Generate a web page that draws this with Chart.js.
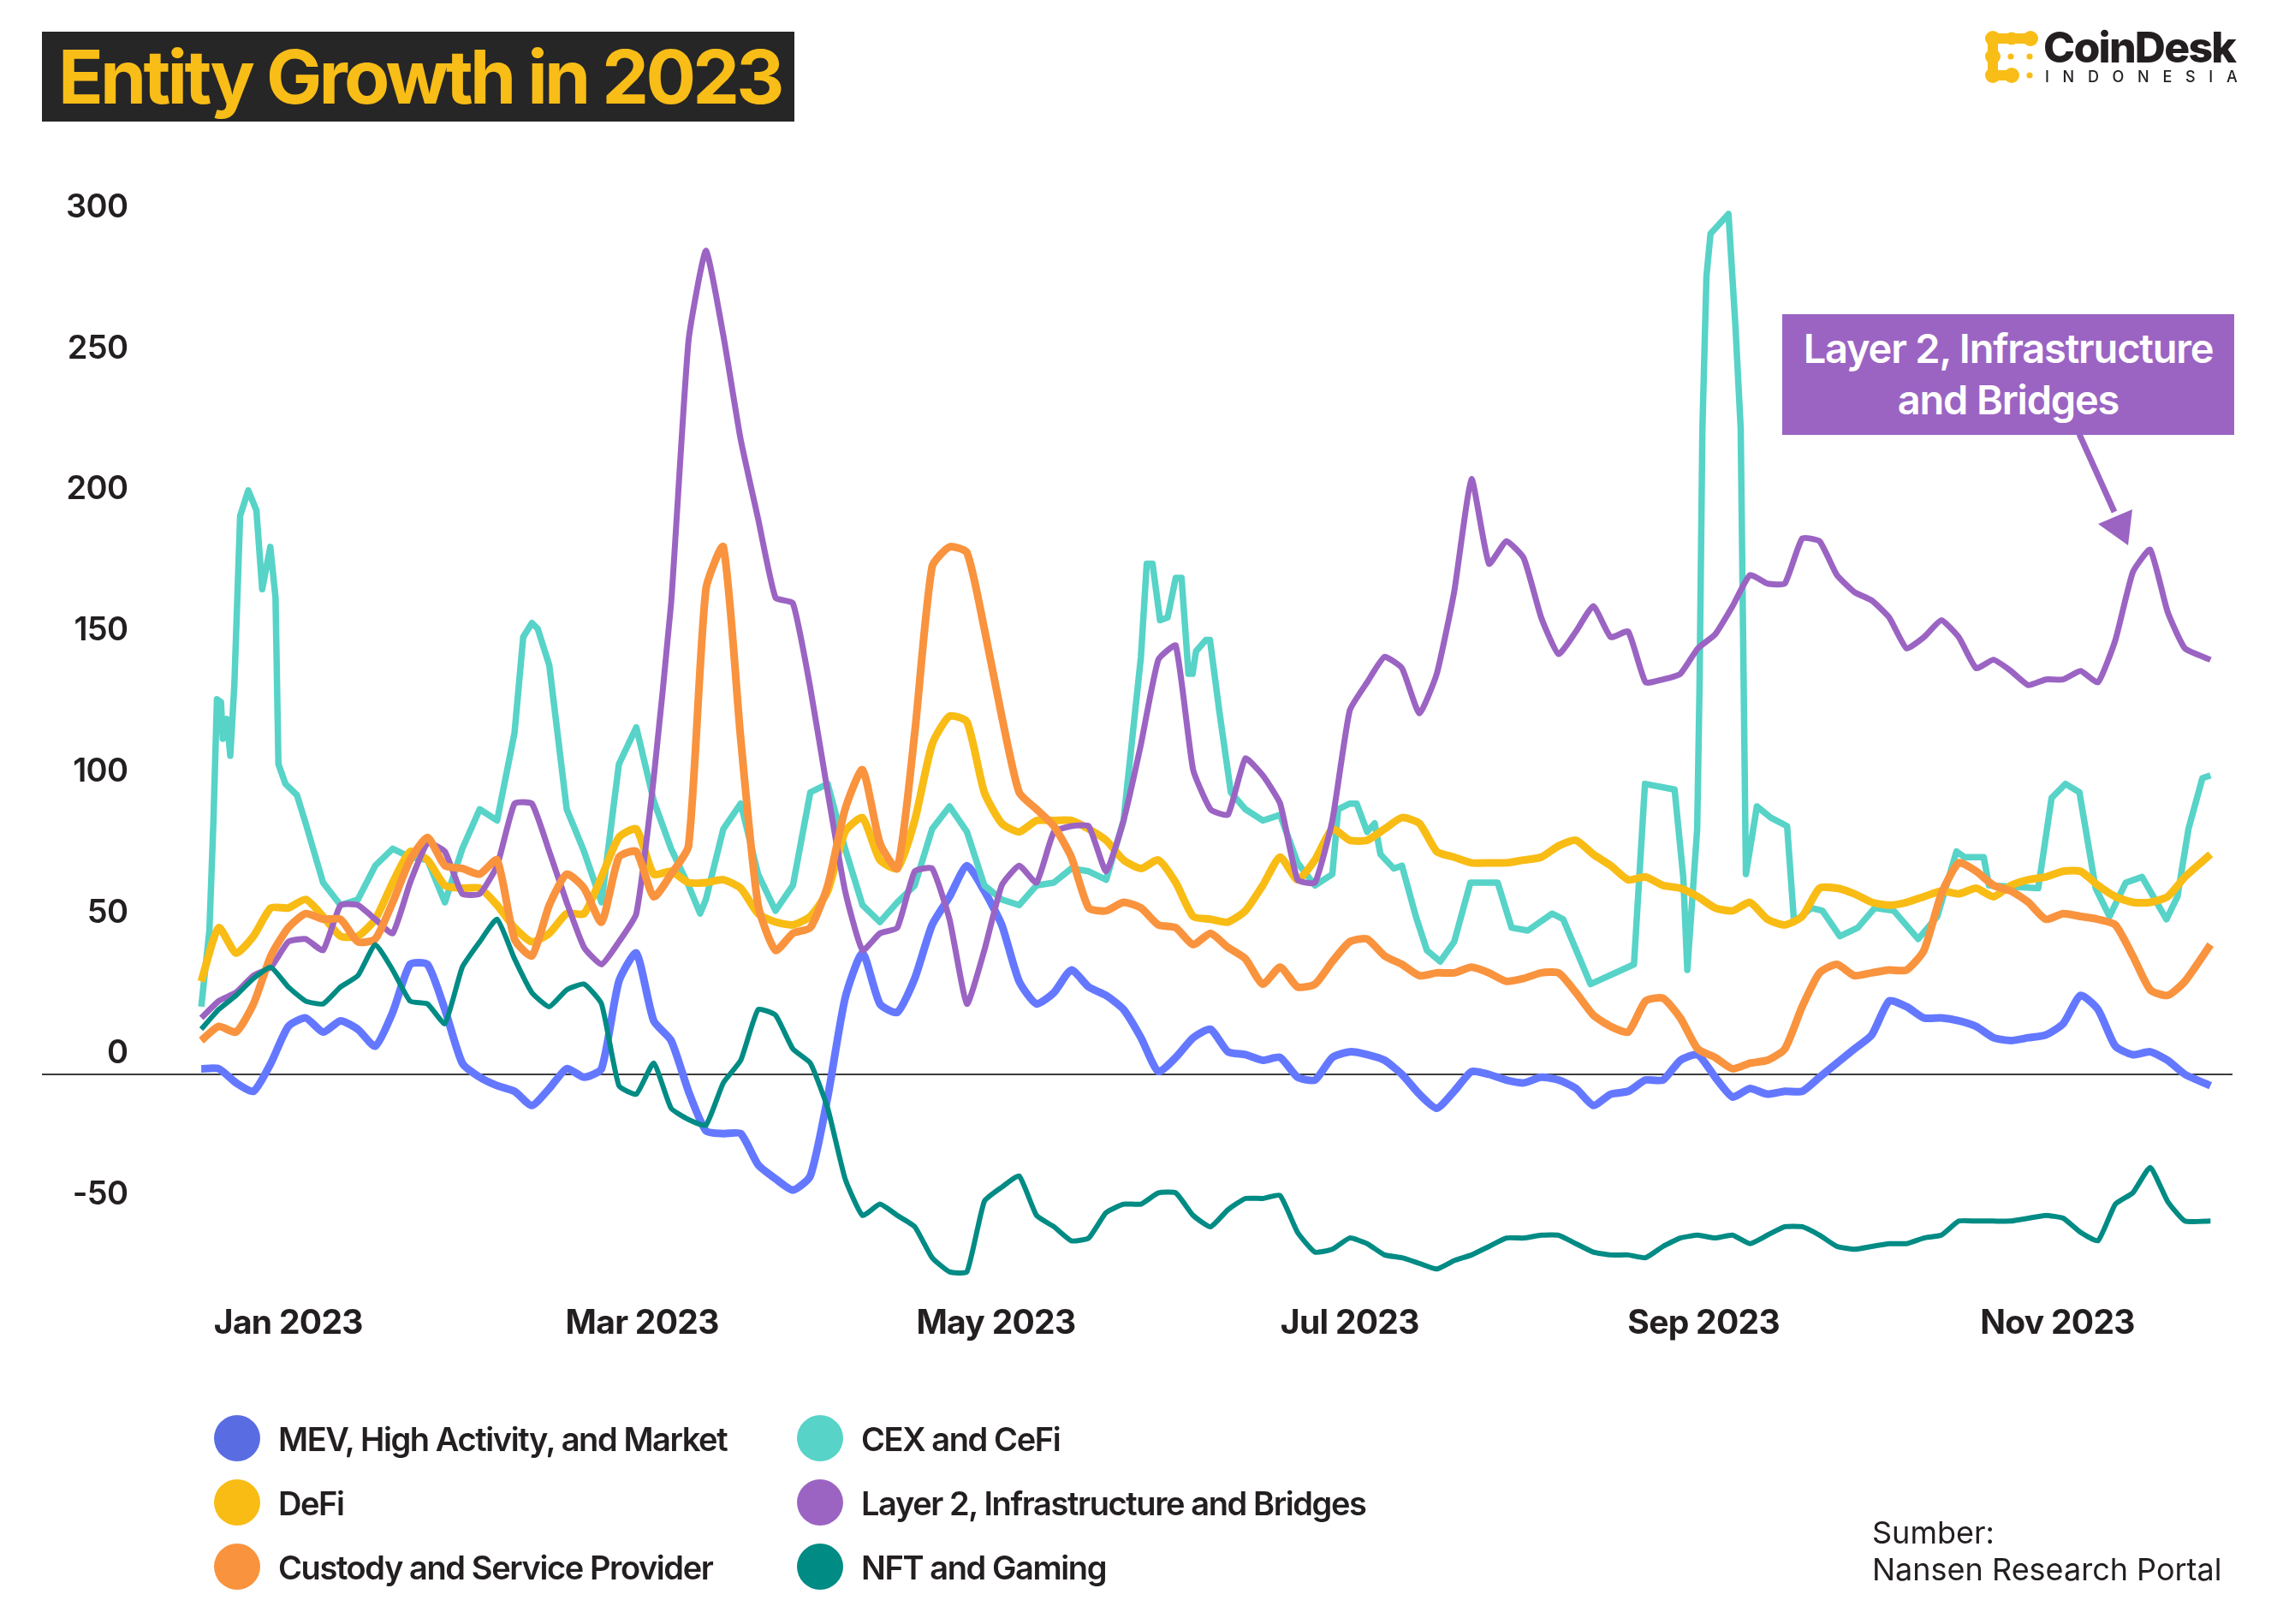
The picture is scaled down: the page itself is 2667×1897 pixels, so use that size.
<!DOCTYPE html>
<html>
<head>
<meta charset="utf-8">
<title>Entity Growth in 2023</title>
<script src="https://cdn.jsdelivr.net/npm/chart.js@4.4.1/dist/chart.umd.js"></script>
<style>
  html, body { margin: 0; padding: 0; background: #fff; }
  body { width: 2667px; height: 1897px; position: relative; overflow: hidden; font-family: Inter, sans-serif; color: #231f20; }
  canvas { position: absolute; left: 0; top: 0; }
  .abs { position: absolute; white-space: nowrap; }
  #title { left: 49px; top: 37px; width: 879px; height: 105px; background: #262626; color: #f9bd17; font-size: 87px; font-weight: 700; line-height: 105px; letter-spacing: -3.75px; text-indent: 19px; }
  #callout { left: 2082px; top: 367px; width: 528px; height: 141px; background: #9b64c3; color: #fff; font-size: 47px; font-weight: 600; line-height: 60px; letter-spacing: -1.2px; text-align: center; padding-top: 10px; box-sizing: border-box; }
  #logoName { left: 2387px; top: 26px; font-size: 50px; font-weight: 800; letter-spacing: -1.8px; line-height: 58px; }
  #logoSub { left: 2389px; top: 79px; font-size: 18px; font-weight: 500; letter-spacing: 15.7px; line-height: 22px; }
  .legendDot { position: absolute; width: 54px; height: 54px; border-radius: 50%; }
  .legendText { font-size: 38px; font-weight: 600; letter-spacing: -1.4px; line-height: 50px; }
  #source { left: 2187px; top: 1769px; font-size: 36px; font-weight: 400; line-height: 43px; letter-spacing: 0; }
  svg { position: absolute; left: 0; top: 0; }
</style>
</head>
<body>
<canvas id="chart" width="2667" height="1897"></canvas>
<div class="abs" id="title">Entity Growth in 2023</div>
<svg width="2667" height="1897">
  <g fill="#f9bd17">
    <path d="M2328 45H2372M2328 45V88M2328 88H2350" fill="none" stroke="#f9bd17" stroke-width="12"/>
    <circle cx="2328" cy="45" r="9"/><circle cx="2350" cy="45" r="7.5"/><circle cx="2372" cy="45" r="9"/>
    <circle cx="2328" cy="66" r="9"/><circle cx="2328" cy="88" r="9"/><circle cx="2350" cy="88" r="9"/>
    <circle cx="2349" cy="66" r="3.6"/><circle cx="2371" cy="66" r="3.6"/><circle cx="2371" cy="88" r="3.6"/>
  </g>
  <path d="M2429 507L2470 598" stroke="#9b64c3" stroke-width="7"/>
  <path d="M2491 595L2451 612L2486 637Z" fill="#9b64c3"/>
</svg>
<div class="abs" id="logoName">CoinDesk</div>
<div class="abs" id="logoSub">INDONESIA</div>
<div class="abs" id="callout">Layer 2, Infrastructure<br>and Bridges</div>
<div class="abs" id="source">Sumber:<br>Nansen Research Portal</div>
<div id="legend"></div>
<script>
// days since 17 Dec 2022, read every third day off the picture
const days = [
  0, 3, 6, 9, 12, 15, 18, 21, 24, 27, 30, 33, 36, 39, 42, 45, 48, 51, 54, 57, 60, 63, 66, 69, 72, 75, 78, 81, 84, 87, 90, 93, 96,
  99, 102, 105, 108, 111, 114, 117, 120, 123, 126, 129, 132, 135, 138, 141, 144, 147, 150, 153, 156, 159, 162, 165, 168, 171, 174, 177, 180, 183, 186, 189, 192, 195, 198, 201,
  204, 207, 210, 213, 216, 219, 222, 225, 228, 231, 234, 237, 240, 243, 246, 249, 252, 255, 258, 261, 264, 267, 270, 273, 276, 279, 282, 285, 288, 291, 294, 297, 300, 303, 306, 309, 312, 315, 318, 321, 324, 327, 330, 333, 336, 339, 342, 346.4
];
const mevValues = [
  2, 2, -3, -6, 4, 17, 20, 15, 19, 16, 10, 22, 39, 39, 23, 4, -1, -4, -6, -11, -5, 2, -1, 2, 33, 43, 19, 12, -6, -20, -21, -21, -32,
  -37, -41, -36, -8, 27, 43, 25, 22, 34, 53, 63, 74, 65, 53, 33, 25, 29, 37, 31, 28, 23, 13, 1, 6, 13, 16, 8, 7, 5, 6, -1, -2, 6, 8, 7,
  5, 0, -7, -12, -6, 1, 0, -2, -3, -1, -2, -5, -11, -7, -6, -2, -2, 5, 7, -1, -8, -5, -7, -6, -6, -1, 4, 9, 14, 26, 24, 20, 20, 19, 17, 13, 12, 13, 14, 18, 28, 23, 10, 7, 8, 5, 0, -4
];
const defiValues = [
  33, 52, 43, 49, 59, 59, 62, 56, 49, 49, 55, 68, 79, 76, 67, 66, 66, 60, 52, 47, 50, 57, 57, 70, 84, 87, 71, 72, 68, 68, 69, 66, 57,
  54, 53, 56, 65, 86, 91, 76, 73, 90, 117, 127, 125, 100, 89, 86, 90, 90, 90, 87, 83, 76, 73, 76, 68, 56, 55, 54, 58, 67, 77, 69, 76, 87, 83, 83,
  87, 91, 89, 79, 77, 75, 75, 75, 76, 77, 81, 83, 78, 74, 69, 70, 67, 66, 63, 59, 58, 61, 55, 53, 56, 66, 66, 64, 61, 60, 61, 63, 65, 64, 66, 63, 67, 69, 70, 72, 72, 67, 63, 61, 61, 63, 70, 78
];
const custodyValues = [
  12, 17, 15, 25, 42, 52, 57, 55, 55, 47, 48, 61, 76, 84, 74, 73, 71, 76, 48, 42, 60, 71, 66, 54, 77, 79, 63, 71, 81, 172, 187, 119, 60,
  44, 50, 52, 67, 94, 108, 82, 73, 121, 180, 187, 185, 158, 127, 100, 94, 88, 77, 59, 58, 61, 59, 53, 52, 46, 50, 45, 41, 32, 38, 31, 32, 40, 47, 48,
  42, 39, 35, 36, 36, 38, 36, 33, 34, 36, 36, 29, 21, 17, 15, 26, 27, 20, 9, 6, 2, 4, 5, 9, 24, 36, 39, 35, 36, 37, 37, 44, 64, 75, 72, 67, 65, 61, 55, 57, 56, 55, 53, 42, 30, 28, 33, 46
];
const layer2Values = [
  20, 26, 29, 35, 38, 47, 48, 44, 60, 60, 55, 50, 68, 82, 79, 64, 64, 74, 96, 96, 79, 61, 45, 39, 47, 57, 105, 167, 260, 292, 262, 225, 197,
  169, 167, 137, 100, 65, 44, 50, 52, 72, 73, 55, 25, 44, 67, 74, 68, 86, 88, 88, 72, 90, 117, 147, 152, 108, 94, 92, 112, 106, 96, 69, 68, 90, 129, 139,
  148, 144, 128, 142, 171, 211, 181, 189, 183, 162, 149, 157, 166, 155, 157, 139, 140, 142, 151, 156, 166, 177, 174, 174, 190, 189, 177, 171, 168, 162, 151, 155, 161, 155, 144, 147, 143, 138, 140, 140, 143, 139, 154, 178, 186, 164, 151, 147
];
const nftValues = [
  16, 23, 28, 34, 38, 31, 26, 25, 31, 35, 46, 37, 26, 25, 18, 38, 47, 55, 41, 29, 24, 30, 32, 25, -4, -7, 4, -12, -16, -18, -3, 5, 23,
  21, 9, 4, -12, -37, -50, -46, -50, -54, -65, -70, -70, -45, -40, -36, -50, -54, -59, -58, -49, -46, -46, -42, -42, -50, -54, -48, -44, -44, -43, -56, -63, -62, -58, -60,
  -64, -65, -67, -69, -66, -64, -61, -58, -58, -57, -57, -60, -63, -64, -64, -65, -61, -58, -57, -58, -57, -60, -57, -54, -54, -57, -61, -62, -61, -60, -60, -58, -57, -52, -52, -52, -52, -51, -50, -51, -56, -59, -46, -42, -33, -45, -52, -52
];
// CEX has very narrow spikes, so it gets its own denser day list
const cexDays = [
  0, 1.4, 2.1, 2.7, 3.4, 3.7, 4.4, 5, 5.7, 6.7,
  8.1, 9.5, 10.5, 11.9, 12.8, 13.3, 14.5, 16.5, 18, 21,
  24, 27, 30, 33, 36, 39, 42, 45, 48, 51,
  54, 55.5, 57, 58, 60, 63, 66, 69, 72, 75,
  78, 81, 84, 86, 87, 90, 93, 96, 99, 102,
  105, 108, 111, 114, 117, 120, 123, 126, 129, 132,
  135, 138, 141, 144, 147, 150, 153, 156, 159, 162,
  163, 164, 165.3, 166.6, 168, 169, 170.2, 170.9, 171.5, 173.2,
  173.9, 175.5, 177.5, 180, 183, 186, 189, 192, 195, 196,
  198, 199.2, 201, 202.3, 203.3, 205.6, 207, 209.4, 211.3, 213.6,
  216, 218.8, 223.5, 225.9, 228.7, 232.9, 234.8, 239.5, 247, 248.9,
  254, 255.5, 256.2, 257.9, 258.3, 258.8, 259.5, 260.2, 263.3, 264.5,
  265.4, 266.3, 268.2, 270.6, 273.4, 274.6, 277.6, 279.5, 282.5, 285.6,
  288.5, 291.8, 296, 299.3, 302.6, 304, 307.3, 308.2, 316.7, 319,
  321.4, 323.8, 326.6, 329, 331.8, 334.6, 338.8, 340.7, 342.6, 345,
  346.4
];
const cexValues = [
  24, 51, 90, 133, 132, 119, 126, 113, 138, 198,
  207, 200, 172, 187, 169, 110, 103, 99, 89, 68,
  60, 62, 74, 80, 77, 76, 61, 80, 94, 90,
  121, 155, 160, 158, 145, 94, 79, 61, 110, 123,
  97, 80, 67, 57, 62, 87, 96, 71, 58, 67,
  100, 103, 80, 60, 54, 61, 67, 87, 95, 86,
  67, 62, 60, 67, 68, 73, 72, 69, 90, 148,
  181, 181, 161, 162, 176, 176, 142, 142, 150, 154,
  154, 129, 100, 94, 90, 92, 75, 67, 71, 94,
  96, 96, 86, 89, 78, 73, 74, 56, 44, 40,
  47, 68, 68, 52, 51, 57, 55, 32, 39, 103,
  101, 70, 37, 87, 137, 229, 283, 298, 305, 265,
  229, 71, 95, 91, 88, 54, 59, 58, 49, 52,
  59, 58, 48, 56, 79, 77, 77, 67, 66, 98,
  103, 100, 66, 56, 68, 70, 55, 63, 87, 105,
  106
];

const seriesNames = ['MEV, High Activity, and Market', 'DeFi', 'Custody and Service Provider', 'CEX and CeFi', 'Layer 2, Infrastructure and Bridges', 'NFT and Gaming'];
const lineColors = ['#6478ff', '#f8bc15', '#f9933e', '#57d3c8', '#9b64c3', '#008b84'];
const legendColors = ['#5a6ce2', '#f8bc15', '#f9933e', '#57d3c8', '#9b64c3', '#008b84'];
const lineWidths = [9, 9, 9, 7.5, 7, 6];
const lineTensions = [0.2, 0.2, 0.2, 0, 0.15, 0.15];
const drawOrders = [5, 3, 1, 4, 2, 0];

const yTickValues = [-50, 0, 50, 100, 150, 200, 250, 300];
const xTickDays = [15, 76, 137, 198, 259, 320];
const xTickLabels = ['Jan 2023', 'Mar 2023', 'May 2023', 'Jul 2023', 'Sep 2023', 'Nov 2023'];

function toPoints(xs, ys) {
  return xs.map((x, i) => ({ x: x, y: ys[i] }));
}

const seriesPoints = [
  toPoints(days, mevValues),
  toPoints(days, defiValues),
  toPoints(days, custodyValues),
  toPoints(cexDays, cexValues),
  toPoints(days, layer2Values),
  toPoints(days, nftValues)
];

// the tick labels in the original are set tight
const tightText = {
  id: 'tightText',
  beforeDraw(chart) { chart.ctx.letterSpacing = '-0.7px'; }
};

new Chart(document.getElementById('chart'), {
  type: 'line',
  plugins: [tightText],
  data: {
    datasets: seriesNames.map((name, i) => ({
      label: name,
      data: seriesPoints[i],
      borderColor: lineColors[i],
      borderWidth: lineWidths[i],
      order: drawOrders[i],
      pointRadius: 0,
      tension: lineTensions[i],
      borderJoinStyle: 'round',
      fill: false
    }))
  },
  options: {
    responsive: false,
    devicePixelRatio: 1,
    animation: false,
    layout: { padding: { left: 49, right: 59, top: 200.6, bottom: 318.4 } },
    plugins: { legend: { display: false }, tooltip: { enabled: false } },
    scales: {
      x: {
        type: 'linear',
        min: -27.47,
        max: 350.19,
        afterFit: (scale) => { scale.height = 60; },
        afterBuildTicks: (scale) => { scale.ticks = xTickDays.map((d) => ({ value: d })); },
        grid: { display: false },
        border: { display: false },
        ticks: {
          autoSkip: false,
          maxRotation: 0,
          padding: -4,
          color: '#231f20',
          font: { family: 'Inter', size: 39, weight: '700' },
          callback: (value) => xTickLabels[xTickDays.indexOf(value)]
        }
      },
      y: {
        min: -80,
        max: 320,
        afterFit: (scale) => { scale.width = 0; },
        afterBuildTicks: (scale) => { scale.ticks = yTickValues.map((v) => ({ value: v })); },
        // only the zero line is visible in the original
        grid: {
          drawTicks: false,
          lineWidth: 2,
          color: (ctx) => (ctx.tick && ctx.tick.value === 0 ? '#3c3c3c' : 'rgba(0,0,0,0)')
        },
        border: { display: false },
        ticks: {
          mirror: true,
          crossAlign: 'far',
          padding: 26,
          labelOffset: -24,
          color: '#231f20',
          font: { family: 'Inter', size: 38, weight: '600' }
        }
      }
    }
  }
});

// legend is two aligned columns, read down then across
const legendColumnX = [250, 931];
const legendRowY = [1680, 1755, 1830];
const legendBox = document.getElementById('legend');
seriesNames.forEach((name, i) => {
  const col = Math.floor(i / 3);
  const row = i % 3;
  const dot = document.createElement('div');
  dot.className = 'legendDot';
  dot.style.left = legendColumnX[col] + 'px';
  dot.style.top = legendRowY[row] - 27 + 'px';
  dot.style.background = legendColors[i];
  legendBox.appendChild(dot);
  const text = document.createElement('div');
  text.className = 'abs legendText';
  text.style.left = legendColumnX[col] + 75 + 'px';
  text.style.top = legendRowY[row] - 24 + 'px';
  text.textContent = name;
  legendBox.appendChild(text);
});
</script>
</body>
</html>
